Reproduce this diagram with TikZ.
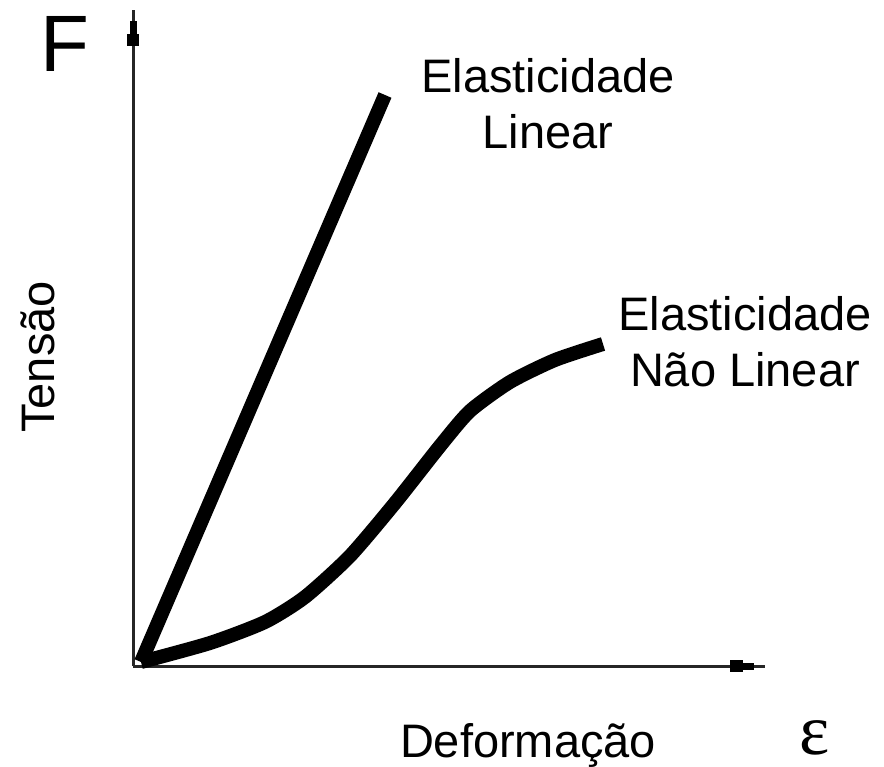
\documentclass[tikz,border=0pt]{standalone}
\usepackage{fontspec}
\setmainfont{Liberation Sans}
\newfontfamily\serifeps{Liberation Serif}
\begin{document}
\begin{tikzpicture}[x=1pt,y=-1pt,
  axis/.style={line width=3pt,draw=black!85},
  tipbox/.style={fill=black,draw=none},
  curve/.style={line width=14pt,line join=round},
  lbl/.style={font=\fontsize{47}{56}\selectfont,align=center,inner sep=0pt}]
\useasboundingbox[fill=white] (0,0) rectangle (884,767);
\coordinate (O) at (133,666);
\coordinate (ytop) at (133,10);
\coordinate (xend) at (765,666);
\draw[axis] (O) -- (ytop);
\draw[axis] (O) -- (xend);
% stepped arrowheads
\fill[tipbox] (129.5,21) rectangle (136.5,35);
\fill[tipbox] (127,34) rectangle (139,46);
\fill[tipbox] (730,660) rectangle (743,672);
\fill[tipbox] (742,662.5) rectangle (754,669.5);
% curves
\coordinate (s) at (141,662);
\coordinate (lin) at (385,95);
\draw[curve] (s) -- (lin);
\draw[curve] plot[smooth,tension=0.4] coordinates {(141,662) (210,643) (265,622) (305,597) (350,556) (395,503) (440,446) (470,411) (510,382) (555,360) (603,344)};
% labels
\node[lbl,font=\fontsize{80}{90}\selectfont] (F) at (65,44) {F};
\node[lbl] (l1) at (548,104) {Elasticidade\\Linear};
\node[lbl] (l2) at (745,342) {Elasticidade\\Não Linear};
\node[lbl,rotate=90] (ty) at (38,357) {Tensão};
\node[lbl] (tx) at (528,745) {Deformação};
\node[inner sep=0pt,anchor=base,text depth=0pt,text height=36pt,font=\serifeps\fontsize{72}{72}\selectfont] (eps) at (815,754) {ε};
\end{tikzpicture}
\end{document}
